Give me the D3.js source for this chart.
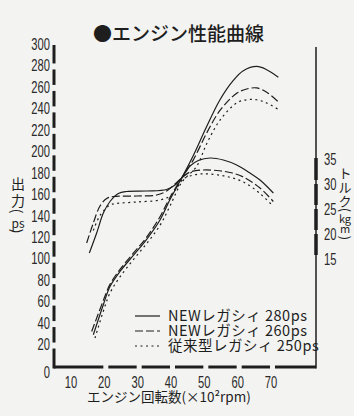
<!DOCTYPE html>
<html lang="ja">
<head>
<meta charset="UTF-8">
<title>エンジン性能曲線</title>
<script src="https://d3js.org/d3.v7.min.js"></script>
<style>
  body { margin: 0; background: #f3f3f1; }
  svg { display: block; }
</style>
</head>
<body>
<div id="chart"></div>
<script>
// 目盛り
var rpmTicks = [10, 20, 30, 40, 50, 60, 70];           // x10^2 rpm
var psTicks = [0, 20, 40, 60, 80, 100, 120, 140, 160, 180, 200, 220, 240, 260, 280, 300];
var kgmTicks = [15, 20, 25, 30, 35];

// 出力 (ps) : [回転数, 出力]
var psNew280 = [[17, 30], [20, 58], [22, 75], [25, 89], [29, 104], [33, 119], [37, 137], [40, 156],
    [43.5, 176], [47, 197], [51, 224], [55, 249], [59, 267], [62, 276], [66, 280], [69, 277], [72.5, 270]];
var psNew260 = [[16.5, 33], [20, 62], [22, 77], [25, 91], [29, 106], [33, 121], [37, 140], [40, 158],
    [43.5, 176], [47, 193], [51, 218], [55, 239], [60, 255], [63, 259], [66, 260], [69, 256], [72.5, 247]];
var psOld250 = [[17.5, 27], [20, 52], [22, 69], [25, 84], [29, 100], [33, 115], [37, 132], [40, 150],
    [43.5, 172], [48, 187], [51, 208], [55, 230], [60, 246], [63, 249], [66, 249], [69, 246], [72.5, 240]];

// トルク (kgm) : [回転数, トルク]
var tqNew280 = [[15.8, 16], [18, 20], [20, 24], [22, 26.3], [24.5, 27.9], [27, 28.3], [33, 28.4], [39, 28.7],
    [41.5, 29.6], [43.5, 31], [46, 33.4], [48.5, 34.5], [52, 35], [56, 34.6], [60, 33.6], [64, 32], [67, 30.6], [71, 28]];
var tqNew260 = [[15, 18], [17, 22], [19, 25.4], [21, 26.9], [23, 27.3], [30, 27.4], [36, 27.6], [39, 28.4],
    [41.5, 29.8], [43.5, 31], [46, 32.2], [50, 32.6], [54, 32.5], [58, 32.1], [62, 31.2], [67, 29], [71, 26.3]];
var tqOld250 = [[17, 20.5], [19, 23.5], [22, 25.6], [24, 25.9], [30, 26.2], [37, 26.6], [40, 27.4], [42, 29],
    [44, 30.8], [46, 31.4], [49, 31.8], [52, 31.8], [57, 31.3], [62, 30.2], [67, 27.9], [71, 25.3]];

var seriesNames = ['NEWレガシィ 280ps', 'NEWレガシィ 260ps', '従来型レガシィ 250ps'];
var seriesPs = [psNew280, psNew260, psOld250];
var seriesTq = [tqNew280, tqNew260, tqOld250];
var dashes = [null, '8,3', '2,3.5'];

var width = 354, height = 416;
var ink = '#1e1e1e';
var numFont = '"Liberation Sans", Arimo, sans-serif';
var jpFont = '"Noto Sans CJK JP", "Noto Sans", sans-serif';

var svg = d3.select('#chart').append('svg')
    .attr('width', width)
    .attr('height', height);

svg.append('rect').attr('width', width).attr('height', height).attr('fill', '#f3f3f1');

var x = d3.scaleLinear().domain([10, 70]).range([70, 270]);
var yP = d3.scaleLinear().domain([0, 300]).range([367, 45]);
var yT = d3.scaleLinear().domain([15, 35]).range([258, 158]);

var axL = x(5.2), axR = x(83.8), axB = yP(0), axT = yP(300);

// 細長い数字 (縦長の書体の代わりに横を縮める)
function numLabel(sel, anchor) {
    sel.attr('text-anchor', anchor)
        .attr('dy', '0.36em')
        .attr('font-family', numFont).attr('font-size', 16)
        .attr('fill', '#2a2a2a');
}

// タイトル
svg.append('text')
    .attr('x', 93).attr('y', 41)
    .attr('font-family', jpFont).attr('font-size', 19).attr('font-weight', 500)
    .attr('fill', ink)
    .text('●エンジン性能曲線');

// 左軸 (太い破線、目盛り位置で切れる)
var gAxis = svg.append('g').attr('stroke', ink).attr('stroke-linecap', 'butt');
for (var i = 0; i < psTicks.length - 1; i++) {
    var y1 = yP(psTicks[i]) - (i == 0 ? -1.5 : 3);
    var y2 = yP(psTicks[i + 1]) + (i == psTicks.length - 2 ? 0 : 3);
    gAxis.append('line')
        .attr('x1', axL).attr('x2', axL)
        .attr('y1', y1).attr('y2', y2)
        .attr('stroke-width', 3);
}
svg.append('g').selectAll('text')
    .data(psTicks).enter().append('text')
    .attr('transform', d => 'translate(' + (axL - 4) + ',' + (yP(d) + (d == 0 ? 5 : -1)) + ') scale(0.7,1)')
    .call(numLabel, 'end')
    .text(d => d);

// 下軸
var xStops = [axL].concat(rpmTicks.slice(1).map(d => x(d))).concat([axR]);
for (var j = 0; j < xStops.length - 1; j++) {
    gAxis.append('line')
        .attr('x1', xStops[j] + (j == 0 ? 0 : 5)).attr('x2', xStops[j + 1])
        .attr('y1', axB).attr('y2', axB)
        .attr('stroke-width', 3);
}
svg.append('g').selectAll('text')
    .data(rpmTicks).enter().append('text')
    .attr('transform', d => 'translate(' + (x(d) + 1) + ',' + (axB + 15) + ') scale(0.7,1)')
    .call(numLabel, 'middle')
    .text(d => d);

svg.append('text')
    .attr('x', 87).attr('y', 402)
    .attr('font-family', jpFont).attr('font-size', 13.5)
    .attr('fill', ink)
    .text('エンジン回転数(×10²rpm)');

// 右軸 (細線 + トルク範囲の太い破線)
gAxis.append('line')
    .attr('x1', axR).attr('x2', axR)
    .attr('y1', axT + 2).attr('y2', axB + 1.5)
    .attr('stroke-width', 1.5);
for (var k = kgmTicks.length - 1; k > 0; k--) {
    gAxis.append('line')
        .attr('x1', axR).attr('x2', axR)
        .attr('y1', yT(kgmTicks[k]) + (k == kgmTicks.length - 1 ? 0 : 1))
        .attr('y2', yT(kgmTicks[k - 1]) - 3)
        .attr('stroke-width', 3.5);
}
svg.append('g').selectAll('text')
    .data(kgmTicks).enter().append('text')
    .attr('transform', d => 'translate(' + (axR + 8) + ',' + (yT(d) + 1.5) + ') scale(0.7,1)')
    .call(numLabel, 'start')
    .text(d => d);

// 縦書きの軸タイトル
function vTitle(cx, size, tokens) {
    var g = svg.append('g').attr('font-family', jpFont).attr('fill', ink);
    tokens.forEach(function (t) {
        g.append('text')
            .attr('text-anchor', 'middle')
            .attr('dominant-baseline', 'central')
            .attr('font-size', t.size || size)
            .attr('transform', 'translate(' + cx + ',' + t.y + ')' + (t.rot ? ' rotate(90)' : ''))
            .text(t.s);
    });
}
vTitle(18, 14, [
    {s: '出', y: 183}, {s: '力', y: 200}, {s: '(', y: 211, rot: true},
    {s: 'ps', y: 222, size: 12}, {s: ')', y: 231, rot: true}
]);
vTitle(345, 13, [
    {s: 'ト', y: 172}, {s: 'ル', y: 186}, {s: 'ク', y: 200}, {s: '(', y: 210, rot: true},
    {s: 'kg', y: 218, size: 11}, {s: 'm', y: 228, size: 11}, {s: ')', y: 238, rot: true}
]);

// 曲線
var psLine = d3.line().x(d => x(d[0])).y(d => yP(d[1])).curve(d3.curveCatmullRom.alpha(0.5));
var tqLine = d3.line().x(d => x(d[0])).y(d => yT(d[1])).curve(d3.curveCatmullRom.alpha(0.5));

var gCurves = svg.append('g').attr('fill', 'none').attr('stroke', ink).attr('stroke-width', 1.2);
seriesPs.forEach(function (data, i) {
    gCurves.append('path').attr('d', psLine(data)).attr('stroke-dasharray', dashes[i]);
});
seriesTq.forEach(function (data, i) {
    gCurves.append('path').attr('d', tqLine(data)).attr('stroke-dasharray', dashes[i]);
});

// 凡例
var legend = svg.append('g')
    .selectAll('g')
    .data(seriesNames).enter().append('g')
    .attr('transform', (d, i) => 'translate(0,' + (316 + i * 15) + ')');
legend.append('line')
    .attr('x1', 135).attr('x2', 160)
    .attr('stroke', ink).attr('stroke-width', 1.2)
    .attr('stroke-dasharray', (d, i) => dashes[i]);
legend.append('text')
    .attr('x', 168)
    .attr('dy', '0.36em')
    .attr('font-family', jpFont).attr('font-size', 14.5)
    .attr('letter-spacing', 0.5)
    .attr('fill', ink)
    .text(d => d);
</script>
</body>
</html>
